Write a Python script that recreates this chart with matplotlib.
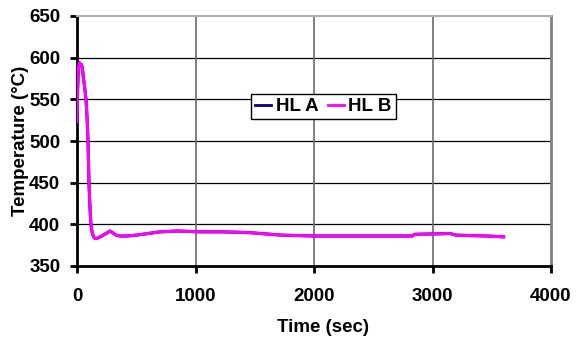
import matplotlib
matplotlib.use("Agg")
import matplotlib.pyplot as plt

# Hot-leg temperature transient
time_s = [0, 5, 12, 20, 28, 36, 45, 53, 64, 76, 85, 93, 101, 108, 115, 122, 130,
          140, 152, 165, 180, 210, 245, 278, 300, 330, 363, 420, 500, 600, 700,
          850, 1040, 1230, 1460, 1545, 1730, 2020, 2500, 2830, 2850, 3150, 3200,
          3460, 3600]
temp_hl_b = [523, 560, 588, 594, 589, 592, 588, 577, 565, 550, 528, 500, 450,
             425, 405, 395, 389, 385, 383, 383, 384, 386, 389, 392, 390, 387,
             386, 386, 387, 389, 391, 392, 391, 391, 390, 389, 387, 386, 386,
             386, 388, 389, 387, 386, 385]
temp_hl_a = list(temp_hl_b)

series_names = ["HL A", "HL B"]
x_ticks = [0, 1000, 2000, 3000, 4000]
y_ticks = [350, 400, 450, 500, 550, 600, 650]

plt.rcParams["font.family"] = ["Liberation Sans", "DejaVu Sans"]
plt.rcParams["font.weight"] = "bold"
FS = 13.5

fig = plt.figure(figsize=(5.84, 3.40), dpi=100)
ax = fig.add_axes([77 / 584, 1 - 266 / 340, (551 - 77) / 584, (266 - 16) / 340])

ax.plot(time_s, temp_hl_a, color="#000080", lw=2.2, label=series_names[0], zorder=3)
ax.plot(time_s, temp_hl_b, color="#FF00FF", lw=2.2, label=series_names[1], zorder=4)

ax.set_xlim(x_ticks[0], x_ticks[-1])
ax.set_ylim(y_ticks[0], y_ticks[-1])
ax.set_xticks(x_ticks)
ax.set_yticks(y_ticks)

# Gridlines: black horizontal, grey vertical
for y in y_ticks[1:-1]:
    ax.axhline(y, color="black", lw=0.9, zorder=1)
for x in x_ticks[1:-1]:
    ax.axvline(x, color="#6a6a6a", lw=1.2, zorder=1)

for side in ("left", "bottom"):
    ax.spines[side].set_color("black")
    ax.spines[side].set_linewidth(2)
ax.spines["right"].set_color("#808080")
ax.spines["right"].set_linewidth(2)
ax.spines["top"].set_color("#b0b0b0")
ax.spines["top"].set_linewidth(1.5)

ax.tick_params(axis="both", direction="out", length=5, width=2, color="black",
               labelsize=FS)
ax.tick_params(axis="y", pad=7)
ax.tick_params(axis="x", pad=11)
for lbl in ax.get_xticklabels() + ax.get_yticklabels():
    lbl.set_fontweight("bold")

fig.text(323 / 584, 1 - 327 / 340, "Time (sec)", ha="center", va="center",
         fontsize=FS, fontweight="bold")
fig.text(21 / 584, 1 - 141 / 340, "Temperature (°C)", ha="center", va="center",
         rotation=90, fontsize=FS, fontweight="bold")

leg = ax.legend(loc="center", bbox_to_anchor=(323.5 / 584, 1 - 106.5 / 340),
                bbox_transform=fig.transFigure, ncol=2, frameon=True,
                fancybox=False, shadow=False, handlelength=0.85,
                handletextpad=0.25, columnspacing=0.5, borderpad=0.2,
                borderaxespad=0, prop={"size": FS, "weight": "bold"})
leg.get_frame().set_edgecolor("black")
leg.get_frame().set_linewidth(1)
leg.get_frame().set_facecolor("white")
leg.get_frame().set_alpha(1)
for h in leg.get_lines():
    h.set_linewidth(2)

fig.savefig("out.png", dpi=100, facecolor="white")
